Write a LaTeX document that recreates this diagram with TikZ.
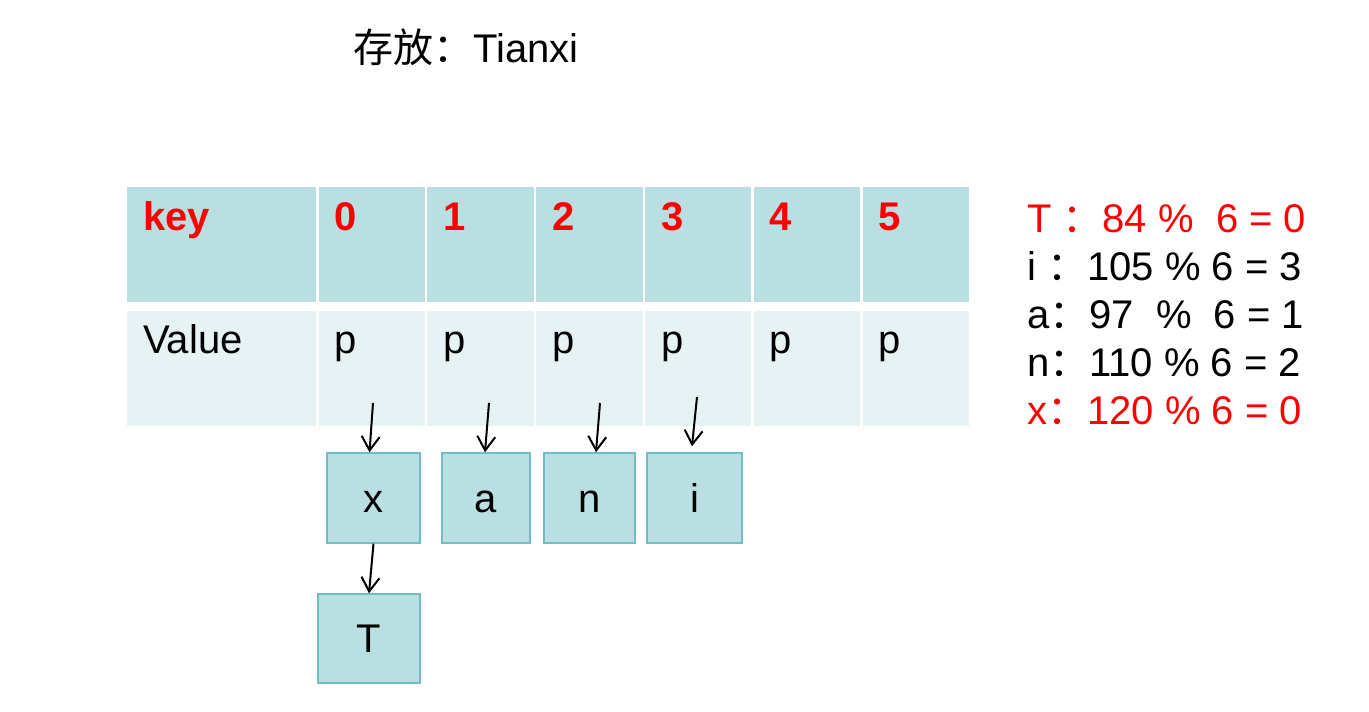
\documentclass[tikz,border=0pt]{standalone}
\usepackage{fontspec}
\setmainfont{Liberation Sans}
\newfontfamily\cjk{Noto Sans CJK SC}
\usetikzlibrary{arrows.meta,positioning}
\definecolor{cellhd}{HTML}{B9DFE2}
\definecolor{cellbd}{HTML}{E6F2F4}
\definecolor{boxln}{HTML}{72BCC3}
\newcommand{\fz}{\fontsize{40}{48}\selectfont}

\begin{document}
\begin{tikzpicture}[x=1pt,y=-1pt,>={Straight Barb[length=14pt,width=18pt]},node distance=2pt,
  c/.style={inner xsep=16pt,inner ysep=0pt,text height=43pt,text depth=72pt,text width=74.4pt,align=left,font=\fz},
  hd/.style={c,fill=cellhd,text=red,font=\fz\bfseries},
  vl/.style={c,fill=cellbd},
  bx/.style={draw=boxln,line width=1.5pt,fill=cellhd,minimum height=90pt,font=\fz,inner sep=0pt,text height=28pt,text depth=0pt},
  t/.style={anchor=base west,inner sep=0pt,font=\fz},
  ar/.style={->,line width=2pt}]
  \useasboundingbox (0,0) rectangle (1369,712);
  \node[t](ttl) at (353,62){{\cjk 存放：}Tianxi};
  % hash table: key row and value row
  \node[hd,anchor=north west,text width=157pt](kk) at (127,187){key};
  \node[hd,right=of kk](k0){0};\node[hd,right=of k0](k1){1};\node[hd,right=of k1](k2){2};
  \node[hd,right=of k2](k3){3};\node[hd,right=of k3](k4){4};\node[hd,right=of k4](k5){5};
  \node[vl,below=8pt of kk,text width=157pt](vv){Value};
  \node[vl,below=8pt of k0](v0){p};\node[vl,below=8pt of k1](v1){p};\node[vl,below=8pt of k2](v2){p};
  \node[vl,below=8pt of k3](v3){p};\node[vl,below=8pt of k4](v4){p};\node[vl,below=8pt of k5](v5){p};
  % chained entries
  \node[bx,minimum width=93pt](nx) at (373.5,498){x};
  \node[bx,minimum width=88pt](na) at (486,498){a};
  \node[bx,minimum width=91pt](nn) at (589.5,498){n};
  \node[bx,minimum width=95pt](ni) at (694.5,498){i};
  \node[bx,minimum width=102pt,minimum height=89pt](nt) at (369,638.5){T};
  \coordinate (s0) at (373,403);\coordinate (s1) at (489,403);
  \coordinate (s2) at (600,403);\coordinate (s3) at (697,397);
  \draw[ar](s0)--([xshift=-4pt]nx.north);\draw[ar](s1)--([xshift=-1pt]na.north);
  \draw[ar](s2)--([xshift=6.5pt]nn.north);\draw[ar](s3)--([shift={(-2.5pt,6pt)}]ni.north);
  \draw[ar](nx.south)--(nt.north);
  % hash values
  \node[t,text=red](e1) at (1027,232){T {\cjk ：}84 \%\ \ 6 = 0};
  \node[t](e2) at (1027,280){i {\cjk ：}105 \% 6 = 3};
  \node[t](e3) at (1027,328){a{\cjk ：}97\ \ \%\ \ 6 = 1};
  \node[t](e4) at (1027,376){n{\cjk ：}110 \% 6 = 2};
  \node[t,text=red](e5) at (1027,424){x{\cjk ：}120 \% 6 = 0};
\end{tikzpicture}
\end{document}
